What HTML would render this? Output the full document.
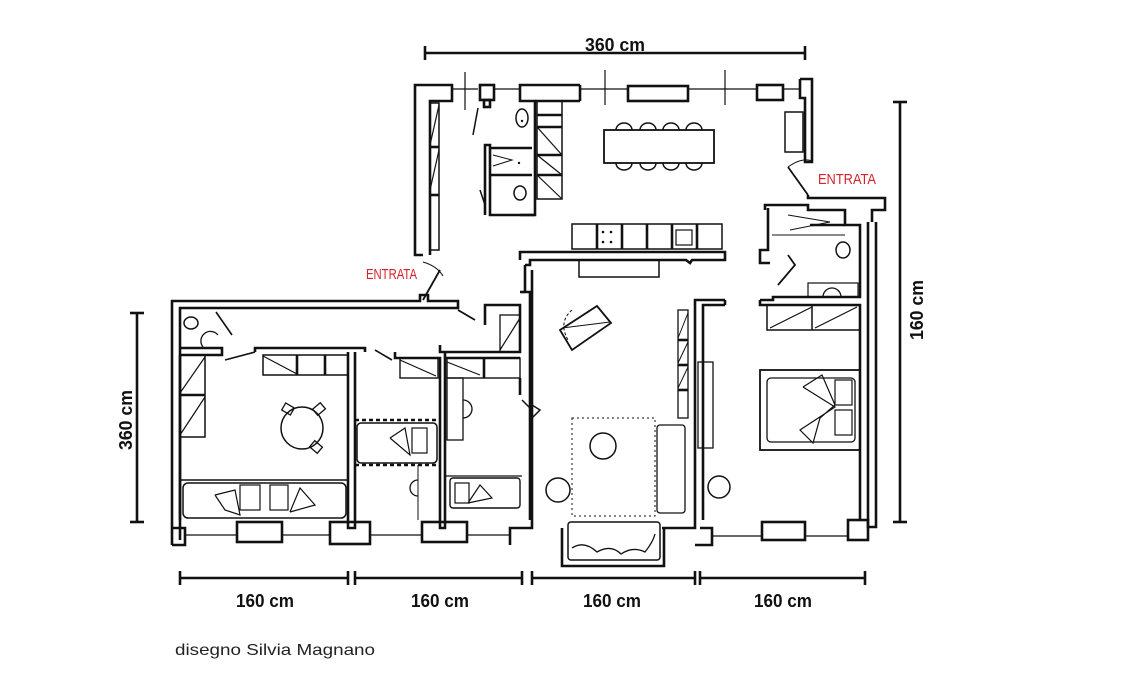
<!DOCTYPE html>
<html><head><meta charset="utf-8"><style>
html,body{margin:0;padding:0;background:#fff;}
svg{display:block}
text{font-family:"Liberation Sans",sans-serif;}
</style></head><body>
<svg width="1140" height="680" viewBox="0 0 1140 680" xmlns="http://www.w3.org/2000/svg">
<g fill="none" stroke="#111" stroke-width="2.6" stroke-linejoin="miter">
<!-- dimension lines -->
<line x1="425" y1="53" x2="805" y2="53"/><line x1="425" y1="46" x2="425" y2="60"/><line x1="805" y1="46" x2="805" y2="60"/>
<line x1="900" y1="102" x2="900" y2="522"/><line x1="893" y1="102" x2="907" y2="102"/><line x1="893" y1="522" x2="907" y2="522"/>
<line x1="137" y1="313" x2="137" y2="522"/><line x1="130" y1="313" x2="144" y2="313"/><line x1="130" y1="522" x2="144" y2="522"/>
<line x1="180" y1="578" x2="348" y2="578"/><line x1="180" y1="571" x2="180" y2="585"/><line x1="348" y1="571" x2="348" y2="585"/>
<line x1="355" y1="578" x2="522" y2="578"/><line x1="355" y1="571" x2="355" y2="585"/><line x1="522" y1="571" x2="522" y2="585"/>
<line x1="532" y1="578" x2="695" y2="578"/><line x1="532" y1="571" x2="532" y2="585"/><line x1="695" y1="571" x2="695" y2="585"/>
<line x1="700" y1="578" x2="865" y2="578"/><line x1="700" y1="571" x2="700" y2="585"/><line x1="865" y1="571" x2="865" y2="585"/>

<!-- top block walls -->
<polyline points="423,255 415,255 415,85 452,85 452,101 430,101 430,255"/>
<line x1="452" y1="89" x2="478" y2="89" stroke-width="1.2"/>
<rect x="480" y="85" width="14" height="15"/><rect x="484" y="100" width="6" height="7"/>
<line x1="494" y1="89" x2="520" y2="89" stroke-width="1.2"/>
<polyline points="580,85 520,85 520,101 535,101 535,215 520,215"/>
<line x1="580" y1="85" x2="580" y2="101"/><line x1="535" y1="101" x2="580" y2="101"/>
<line x1="580" y1="89" x2="628" y2="89" stroke-width="1.2"/>
<rect x="628" y="86" width="60" height="15"/>
<line x1="688" y1="89" x2="757" y2="89" stroke-width="1.2"/>
<rect x="757" y="85" width="26" height="15"/>
<line x1="783" y1="89" x2="800" y2="89" stroke-width="1.2"/>
<polyline points="800,79 812,79 812,162 805,162 805,98 800,98 800,79"/>
<line x1="605" y1="70" x2="605" y2="105" stroke-width="1.2"/><line x1="725" y1="70" x2="725" y2="105" stroke-width="1.2"/><line x1="465" y1="72" x2="465" y2="110" stroke-width="1.2"/>
<rect x="430" y="103" width="9" height="147" stroke-width="1.5"/>
<line x1="430" y1="147" x2="439" y2="147"/><line x1="430" y1="195" x2="439" y2="195"/>
<line x1="430" y1="145" x2="439" y2="105" stroke-width="1.2"/><line x1="430" y1="190" x2="439" y2="150" stroke-width="1.2"/>
<polyline points="485,215 485,145 490,145 490,215 535,215"/>
<line x1="490" y1="148" x2="532" y2="148"/><line x1="490" y1="175" x2="532" y2="175"/>
<ellipse cx="522" cy="118" rx="6" ry="9" stroke-width="1.5"/>
<ellipse cx="520" cy="193" rx="6" ry="7" stroke-width="1.5"/>
<polyline points="493,155 512,160 493,166" stroke-width="1"/>
<line x1="478" y1="108" x2="473" y2="135" stroke-width="1.5"/><line x1="480" y1="190" x2="485" y2="205" stroke-width="1.5"/>
<rect x="537" y="101" width="25" height="98" stroke-width="1.5"/>
<line x1="537" y1="115" x2="562" y2="115"/><line x1="537" y1="127" x2="562" y2="127"/><line x1="537" y1="155" x2="562" y2="155"/><line x1="537" y1="175" x2="562" y2="175"/>
<line x1="537" y1="127" x2="562" y2="155" stroke-width="1.2"/><line x1="537" y1="155" x2="562" y2="175" stroke-width="1.2"/><line x1="537" y1="175" x2="562" y2="199" stroke-width="1.2"/>
<rect x="604" y="130" width="110" height="33" stroke-width="1.8"/>
<g stroke-width="1.5">
<path d="M616,130 a8,7 0 0 1 16,0"/><path d="M640,130 a8,7 0 0 1 16,0"/><path d="M663,130 a8,7 0 0 1 16,0"/><path d="M686,130 a8,7 0 0 1 16,0"/>
<path d="M616,163 a8,7 0 0 0 16,0"/><path d="M640,163 a8,7 0 0 0 16,0"/><path d="M663,163 a8,7 0 0 0 16,0"/><path d="M686,163 a8,7 0 0 0 16,0"/>
</g>
<rect x="785" y="112" width="18" height="40" stroke-width="1.5"/>
<polyline points="788,167 808,195" stroke-width="1.8"/><path d="M788,167 q14,-10 24,-6" stroke-width="1"/>
<polyline points="808,195 808,198 885,198 885,210 872,210 872,222"/>
<polyline points="868,222 868,527 876,527 876,222"/>
<rect x="572" y="224" width="150" height="25" stroke-width="1.5"/>
<line x1="597" y1="224" x2="597" y2="249"/><line x1="622" y1="224" x2="622" y2="249"/><line x1="647" y1="224" x2="647" y2="249"/><line x1="672" y1="224" x2="672" y2="249"/><line x1="697" y1="224" x2="697" y2="249"/>
<rect x="676" y="230" width="16" height="15" stroke-width="1.2"/>
<polyline points="520,260 520,252 725,252 725,260 692,260 690,263 686,260 530,260 530,265 525,265"/>
<rect x="579" y="260" width="80" height="17" stroke-width="1.5"/>
<polyline points="765,210 765,205 808,205 808,210 845,210 845,225 860,225 860,297 773,297 773,300 760,300"/>
<polyline points="768,208 768,250 760,250 760,263 770,263"/>
<line x1="810" y1="225" x2="845" y2="225"/><line x1="772" y1="235" x2="845" y2="235" stroke-width="1"/>
<polyline points="788,215 830,222 790,230" stroke-width="1"/>
<ellipse cx="843" cy="250" rx="7" ry="8" stroke-width="1.5"/>
<rect x="808" y="283" width="50" height="14" stroke-width="1.2"/><path d="M823,297 a9,9 0 0 1 18,0" stroke-width="1.3"/>
<polyline points="778,285 795,265 788,255" stroke-width="1.8"/>
<polyline points="760,300 760,305 860,305 860,520"/>
<polyline points="767,305 767,330 860,330" stroke-width="1.5"/>
<line x1="812" y1="305" x2="812" y2="330" stroke-width="1.5"/>
<line x1="770" y1="328" x2="812" y2="307" stroke-width="1.2"/><line x1="815" y1="328" x2="857" y2="307" stroke-width="1.2"/>
<rect x="760" y="370" width="100" height="80" stroke-width="1.8"/>
<rect x="767" y="378" width="88" height="64" rx="4" stroke-width="1.3"/>
<polyline points="803,387 822,375 835,405 820,418 813,443 800,430 835,407 803,387" stroke-width="1.2"/>
<rect x="835" y="380" width="17" height="25" stroke-width="1.2"/><rect x="835" y="410" width="17" height="25" stroke-width="1.2"/>
<circle cx="719" cy="487" r="11" stroke-width="1.5"/>
<polyline points="525,265 525,292 530,292 530,520"/>
<polyline points="532,270 532,520"/>
<polyline points="725,300 695,300 695,520"/>
<polyline points="725,305 703,305 703,520"/>
<line x1="725" y1="300" x2="725" y2="305"/>
<rect x="678" y="310" width="10" height="108" stroke-width="1.3"/>
<line x1="678" y1="340" x2="688" y2="340"/><line x1="678" y1="365" x2="688" y2="365"/><line x1="678" y1="390" x2="688" y2="390"/>
<line x1="678" y1="338" x2="688" y2="313" stroke-width="1"/><line x1="678" y1="363" x2="688" y2="342" stroke-width="1"/><line x1="678" y1="388" x2="688" y2="367" stroke-width="1"/>
<rect x="698" y="362" width="15" height="86" stroke-width="1.3"/>
<polygon points="560,330 597,306 611,323 572,350" stroke-width="1.8"/>
<line x1="562" y1="328" x2="610" y2="322" stroke-width="1"/>
<path d="M572,310 q-14,12 -4,30" stroke-width="1" stroke-dasharray="3,2"/>
<rect x="572" y="418" width="83" height="98" stroke-width="1" stroke-dasharray="2,3"/>
<circle cx="603" cy="446" r="13" stroke-width="1.5"/>
<rect x="657" y="425" width="28" height="88" rx="3" stroke-width="1.3"/>
<circle cx="558" cy="490" r="12" stroke-width="1.5"/>
<polyline points="532,405 540,410 530,420" stroke-width="1.5"/>
<polyline points="532,520 532,528 510,528 510,545"/>
<polyline points="695,520 695,528 662,528"/>
<polyline points="562,528 562,566 664,566 664,528"/>
<rect x="568" y="522" width="92" height="38" rx="3" stroke-width="1.5"/>
<path d="M572,548 q12,-8 25,4 q14,-8 24,2 q12,-8 24,-2 q8,-10 10,-18" stroke-width="1.3"/>
<polyline points="700,528 712,528 712,545 695,545" />
<rect x="762" y="522" width="43" height="18"/>
<rect x="848" y="520" width="20" height="20"/>
<line x1="712" y1="536" x2="762" y2="536" stroke-width="1.2"/><line x1="805" y1="536" x2="848" y2="536" stroke-width="1.2"/>
<line x1="423" y1="300" x2="440" y2="270" stroke-width="1.8"/>
<path d="M423,262 q14,4 20,14" stroke-width="1"/>
<polyline points="172,545 172,301 420,301 420,295 428,295 428,301 458,301 458,308 180,308 180,540"/>
<line x1="458" y1="310" x2="475" y2="320" stroke-width="1.8"/>
<polyline points="485,325 485,305 520,305 520,352 440,352 440,345"/>
<polyline points="525,292 520,292"/>
<rect x="500" y="315" width="20" height="37" stroke-width="1.3"/>
<line x1="500" y1="350" x2="520" y2="318" stroke-width="1.2"/>
<polyline points="180,348 222,348 222,355 180,355"/>
<ellipse cx="191" cy="323" rx="7" ry="6" stroke-width="1.5"/>
<path d="M203,347 a9,9 0 0 1 15,-12" stroke-width="1.3"/>
<line x1="216" y1="312" x2="232" y2="335" stroke-width="1.6"/>
<line x1="225" y1="360" x2="255" y2="352" stroke-width="1.6"/>
<polyline points="255,352 255,348 365,348 365,352"/>
<polyline points="180,355 180,520"/>
<rect x="180" y="355" width="25" height="82" stroke-width="1.5"/>
<line x1="180" y1="395" x2="205" y2="395"/><line x1="180" y1="393" x2="205" y2="357" stroke-width="1.2"/><line x1="180" y1="435" x2="205" y2="397" stroke-width="1.2"/>
<rect x="263" y="355" width="85" height="20" stroke-width="1.5"/>
<line x1="297" y1="355" x2="297" y2="375"/><line x1="325" y1="355" x2="325" y2="375"/><line x1="263" y1="356" x2="297" y2="374" stroke-width="1.2"/>
<circle cx="302" cy="428" r="21" stroke-width="1.5"/>
<rect x="283" y="405" width="10" height="8" transform="rotate(30 288 409)" stroke-width="1.3"/>
<rect x="314" y="405" width="10" height="8" transform="rotate(-40 319 409)" stroke-width="1.3"/>
<rect x="311" y="443" width="10" height="8" transform="rotate(40 316 447)" stroke-width="1.3"/>
<line x1="180" y1="480" x2="348" y2="480" stroke-width="1.5"/>
<rect x="183" y="483" width="163" height="35" rx="5" stroke-width="1.5"/>
<polyline points="215,495 235,490 240,515 225,510 215,495" stroke-width="1.2"/><rect x="240" y="485" width="20" height="25" stroke-width="1.2"/>
<rect x="270" y="485" width="18" height="25" stroke-width="1.2"/><polyline points="290,512 300,488 315,505 290,512" stroke-width="1.2"/>
<polyline points="348,352 348,528 355,528 355,352"/>
<polyline points="172,545 185,545 185,528 172,528"/>
<rect x="237" y="522" width="45" height="20"/>
<rect x="330" y="522" width="40" height="22"/>
<line x1="185" y1="535" x2="237" y2="535" stroke-width="1.2"/><line x1="282" y1="535" x2="330" y2="535" stroke-width="1.2"/>
<line x1="370" y1="535" x2="422" y2="535" stroke-width="1.2"/>
<rect x="422" y="522" width="45" height="20"/>
<line x1="467" y1="535" x2="510" y2="535" stroke-width="1.2"/>
<polyline points="395,352 395,358 440,358 440,378"/>
<line x1="375" y1="350" x2="392" y2="360" stroke-width="1.6"/>
<rect x="400" y="358" width="38" height="20" stroke-width="1.4"/><line x1="400" y1="360" x2="436" y2="376" stroke-width="1.2"/>
<line x1="355" y1="420" x2="440" y2="420" stroke-dasharray="4,3"/>
<line x1="355" y1="465" x2="440" y2="465" stroke-dasharray="4,3"/>
<rect x="357" y="423" width="80" height="40" rx="4" stroke-width="1.5"/>
<polyline points="390,438 405,428 410,455 390,438" stroke-width="1.2"/><rect x="412" y="428" width="15" height="25" stroke-width="1.2"/>
<path d="M418,480 a8,8 0 0 0 0,16" stroke-width="1.3"/>
<line x1="418" y1="465" x2="418" y2="520" stroke-width="1"/>
<polyline points="440,378 440,528 445,528 445,358 520,358"/>
<polyline points="445,352 445,358"/>
<line x1="447" y1="362" x2="480" y2="375" stroke-width="1.2"/>
<rect x="447" y="358" width="73" height="20" stroke-width="1.4"/>
<line x1="484" y1="358" x2="484" y2="378"/>
<rect x="447" y="378" width="16" height="62" stroke-width="1.3"/>
<path d="M463,400 a9,9 0 0 1 0,18" stroke-width="1.3"/>
<polyline points="520,378 520,395 M520,418 520,528 530,528"/>
<line x1="445" y1="476" x2="522" y2="476" stroke-width="1.3"/>
<rect x="450" y="478" width="70" height="30" rx="3" stroke-width="1.4"/>
<rect x="455" y="483" width="14" height="20" stroke-width="1.2"/><polyline points="468,503 480,485 492,498 468,503" stroke-width="1.2"/>
<line x1="522" y1="400" x2="530" y2="408" stroke-width="1.5"/>
</g>
<g fill="#111">
<circle cx="522" cy="121" r="1.2"/><circle cx="519" cy="163" r="1.2"/><circle cx="603" cy="232" r="1.3"/><circle cx="611" cy="232" r="1.3"/><circle cx="603" cy="242" r="1.3"/><circle cx="611" cy="242" r="1.3"/>
</g>
<g font-size="18" font-weight="bold" fill="#111" text-anchor="middle">
<text x="615" y="51" textLength="60" lengthAdjust="spacingAndGlyphs">360 cm</text>
<text x="265" y="607" textLength="58" lengthAdjust="spacingAndGlyphs">160 cm</text>
<text x="440" y="607" textLength="58" lengthAdjust="spacingAndGlyphs">160 cm</text>
<text x="612" y="607" textLength="58" lengthAdjust="spacingAndGlyphs">160 cm</text>
<text x="783" y="607" textLength="58" lengthAdjust="spacingAndGlyphs">160 cm</text>
<text transform="translate(132,420) rotate(-90)" textLength="60" lengthAdjust="spacingAndGlyphs">360 cm</text>
<text transform="translate(923,310) rotate(-90)" textLength="60" lengthAdjust="spacingAndGlyphs">160 cm</text>
</g>
<text x="366" y="279" font-size="15" fill="#d6202a" textLength="51" lengthAdjust="spacingAndGlyphs">ENTRATA</text>
<text x="818" y="184" font-size="15" fill="#d6202a" textLength="58" lengthAdjust="spacingAndGlyphs">ENTRATA</text>
<text x="175" y="655" font-size="16" fill="#222" textLength="200" lengthAdjust="spacingAndGlyphs">disegno Silvia Magnano</text>
</svg>
</body></html>
